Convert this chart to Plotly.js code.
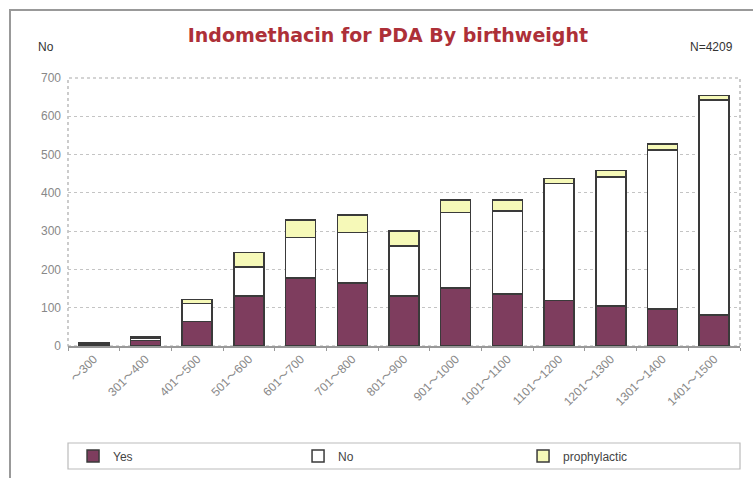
<!DOCTYPE html>
<html>
<head>
<meta charset="utf-8">
<script src="https://cdn.plot.ly/plotly-3.0.1.min.js"></script>
<style>html,body{margin:0;padding:0;background:#fff;}#chart{width:753px;height:478px;}</style>
</head>
<body>
<div id="chart"></div>
<script>
const categories = ["〜300","301〜400","401〜500","501〜600","601〜700","701〜800","801〜900","901〜1000","1001〜1100","1101〜1200","1201〜1300","1301〜1400","1401〜1500"];
const yesValues = [5, 14, 64, 130, 177, 164, 130, 151, 136, 119, 105, 97, 81];
const noValues = [2, 7, 47, 76, 106, 132, 131, 198, 217, 305, 337, 415, 561];
const prophylacticValues = [1, 2, 10, 38, 46, 46, 40, 32, 28, 13, 16, 15, 12];
const yTicks = [0, 100, 200, 300, 400, 500, 600, 700];

const outline = {color: '#3a3a3a', width: 1.5};
const traces = [
  {type: 'bar', name: 'Yes', x: categories, y: yesValues, marker: {color: '#7e3d5e', line: outline}},
  {type: 'bar', name: 'No', x: categories, y: noValues, marker: {color: '#ffffff', line: outline}},
  {type: 'bar', name: 'prophylactic', x: categories, y: prophylacticValues, marker: {color: '#f6f9b8', line: outline}}
];

const font = 'Liberation Sans, Arial, Noto Sans CJK JP, sans-serif';
const layout = {
  width: 753, height: 478,
  barmode: 'stack',
  bargap: 0.42,
  paper_bgcolor: '#ffffff', plot_bgcolor: '#ffffff',
  margin: {l: 68, r: 13, t: 78, b: 132, autoexpand: false},
  font: {family: font, color: '#777', size: 12},
  title: {text: '<b>Indomethacin for PDA By birthweight</b>', font: {family: 'DejaVu Sans, sans-serif', size: 19, color: '#ad3038'},
          xref: 'paper', x: 0.476, xanchor: 'center', yref: 'container', y: 0.927, yanchor: 'middle'},
  showlegend: true,
  legend: {orientation: 'h', x: 0.0075, xanchor: 'left', y: -0.41, yanchor: 'middle',
           entrywidth: 180, entrywidthmode: 'pixels', traceorder: 'normal', itemwidth: 30,
           font: {family: font, size: 12, color: '#444'}, bgcolor: 'rgba(0,0,0,0)', borderwidth: 0},
  xaxis: {type: 'category', showgrid: false, showline: true, linecolor: '#999', linewidth: 1.5, automargin: false,
          ticks: 'outside', ticklen: 3, tickcolor: '#999', tickson: 'boundaries',
          tickangle: -45, tickfont: {family: font, size: 12, color: '#888'}, fixedrange: true},
  yaxis: {range: [0, 700], tickvals: yTicks, ticktext: yTicks.map(String), showgrid: true, gridcolor: '#c4c4c4', griddash: 'dot',
          zeroline: false, showline: false, ticks: '', ticklabelstandoff: 6, automargin: false,
          tickfont: {family: font, size: 12, color: '#888'}, fixedrange: true},
  shapes: [
    {type: 'rect', xref: 'paper', yref: 'paper', x0: 0, x1: 1, y0: 0, y1: 1, line: {color: '#aaa', width: 1.2, dash: 'dot'}, layer: 'below'},
    {type: 'rect', xref: 'paper', yref: 'paper', x0: -0.0863, x1: 1.1, y0: -0.7, y1: 1.2537, line: {color: '#999', width: 2}},
    {type: 'rect', xref: 'paper', yref: 'paper', x0: 0, x1: 1, y0: -0.459, y1: -0.362, line: {color: '#bbb', width: 1.2}}
  ],
  annotations: [
    {text: 'No', xref: 'paper', yref: 'paper', x: -0.048, y: 1.115, xanchor: 'left', yanchor: 'middle', showarrow: false, font: {family: font, size: 12, color: '#333'}},
    {text: 'N=4209', xref: 'paper', yref: 'paper', x: 0.9925, y: 1.115, xanchor: 'right', yanchor: 'middle', showarrow: false, font: {family: font, size: 12, color: '#333'}}
  ]
};

Plotly.newPlot('chart', traces, layout, {displayModeBar: false, staticPlot: true});
</script>
</body>
</html>
